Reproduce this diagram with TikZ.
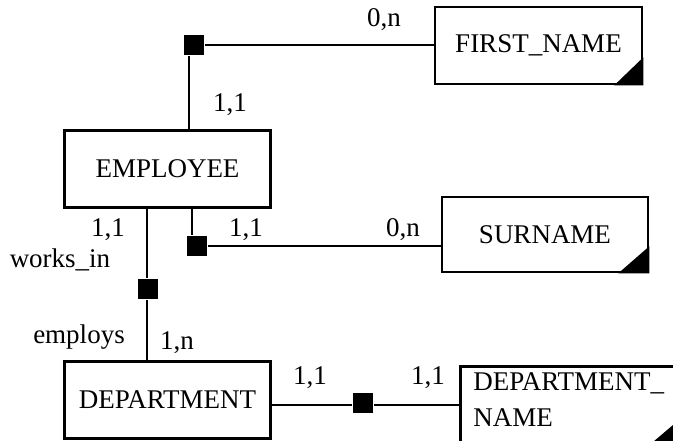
\documentclass[tikz,border=0pt]{standalone}
\usepackage{fontspec}
\setmainfont{Liberation Serif}
\begin{document}
\begin{tikzpicture}[x=1pt,y=-1pt,
  line width=2.6pt,
  every node/.style={font=\fontsize{27}{36}\selectfont, inner sep=0pt},
  entity/.style={draw, fill=white, minimum width=#1, minimum height=77pt},
  entity/.default=206pt,
  joint/.style={fill=black, minimum size=20pt, draw=none},
  lbl/.style={anchor=center}
]
\useasboundingbox (0,0) rectangle (673,440);

% entities
\node[entity=206pt] (emp) at (167.5,169) {EMPLOYEE};
\node[entity=206pt] (dep) at (167.5,400) {DEPARTMENT};
\node[entity=207pt] (fn)  at (538.5,45.5) {FIRST\_NAME};
\node[entity=206pt, minimum height=75pt] (sur) at (545,234.5) {SURNAME};
\node[entity=226pt, anchor=north west] (dn) at (459,365) {};
\node[anchor=north west, align=left] (dnt) at (472,371) {DEPARTMENT\_\\NAME};

% corner marks of the attribute boxes
\fill (fn.south east) -- ++(-29,0) -- ++(29,-28) -- cycle;
\fill (sur.south east) -- ++(-31,0) -- ++(31,-27) -- cycle;
\fill (673,425) -- (673,442) -- (653,442) -- cycle;

% joints
\node[joint] (sqA) at (194,45) {};
\node[joint] (sqB) at (197,246) {};
\node[joint] (sqC) at (148,289) {};
\node[joint] (sqD) at (363,403) {};

% connectors
\draw ([xshift=-5pt]sqA.south) -- ([xshift=-5pt]sqA.south |- emp.north);
\draw (sqA.east) -- (sqA.east -| fn.west);
\draw ([xshift=-5pt]sqB.north) -- ([xshift=-5pt]sqB.north |- emp.south);
\draw (sqB.east) -- (sqB.east -| sur.west);
\draw ([xshift=-1pt]sqC.north) -- ([xshift=-1pt]sqC.north |- emp.south);
\draw ([xshift=-1pt]sqC.south) -- ([xshift=-1pt]sqC.south |- dep.north);
\draw ([yshift=-2pt]sqD.west) -- ([yshift=-2pt]sqD.west -| dep.east);
\draw ([yshift=-2pt]sqD.east) -- ([yshift=-2pt]sqD.east -| dn.west);

% cardinalities and role names
\node[lbl] (c1) at (384,20) {0,n};
\node[lbl] (c2) at (230,105) {1,1};
\node[lbl] (c3) at (108,230) {1,1};
\node[lbl] (r1) at (60,260) {works\_in};
\node[lbl] (c4) at (246,230) {1,1};
\node[lbl] (c5) at (403,230) {0,n};
\node[lbl] (r2) at (79,337) {employs};
\node[lbl] (c6) at (177,343) {1,n};
\node[lbl] (c7) at (310,378) {1,1};
\node[lbl] (c8) at (428,378) {1,1};
\end{tikzpicture}
\end{document}
